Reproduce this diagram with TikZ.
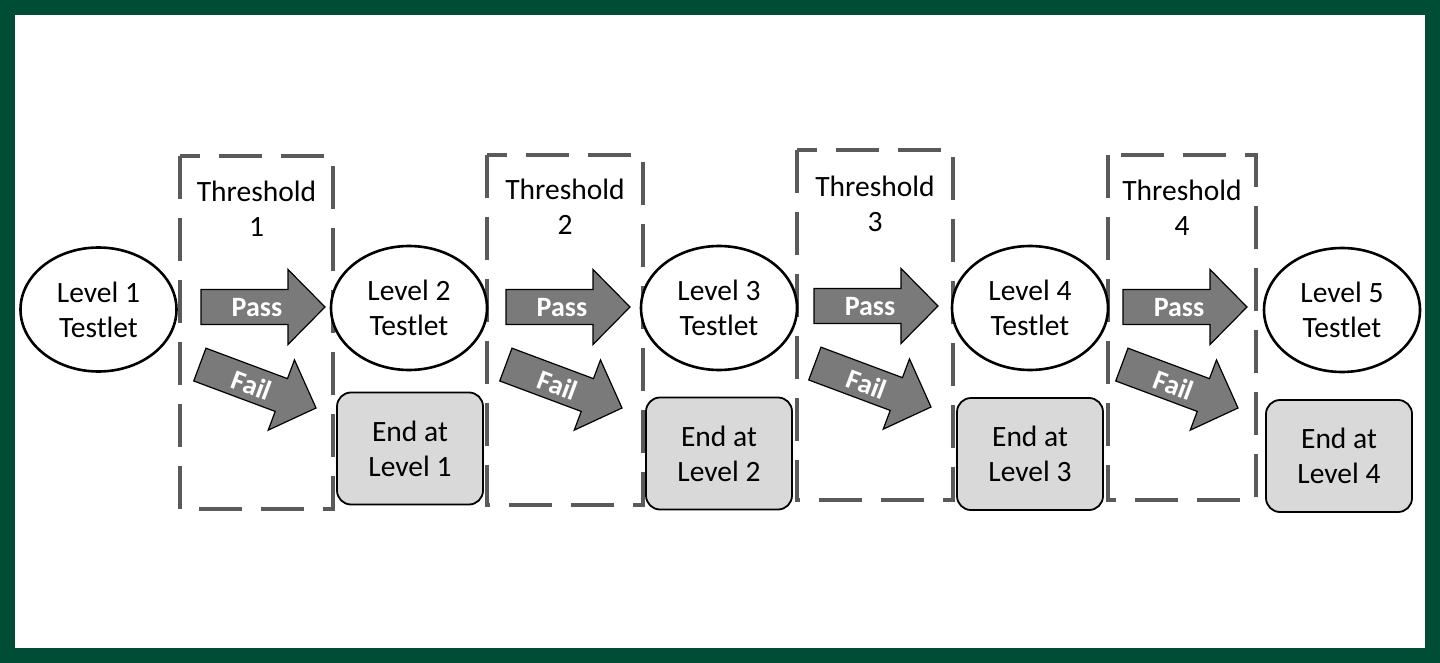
\documentclass[tikz,border=0pt]{standalone}
\usepackage{fontspec}
\setmainfont{Carlito}
\usetikzlibrary{shapes.geometric}
\definecolor{frame}{HTML}{004D35}
\definecolor{arrowgray}{HTML}{7A7A7A}
\definecolor{boxgray}{HTML}{D9D9D9}
\definecolor{dashgray}{HTML}{5A5A5A}
\tikzset{
  txt/.style={font=\fontsize{29.5}{35}\selectfont, align=center, text=black},
  testlet/.style={txt, ellipse, draw=black, line width=2.6pt, fill=white,
    minimum width=156pt, minimum height=124pt, inner sep=0pt},
  endbox/.style={txt, rectangle, rounded corners=14pt, draw=black, line width=1.8pt,
    fill=boxgray, minimum width=146pt, minimum height=112pt, inner sep=0pt},
  thresh/.style={draw=dashgray, line width=3.6pt, dash pattern=on 43pt off 19pt},
  thlabel/.style={txt, inner sep=0pt},
  arrowbody/.style={fill=arrowgray, draw=black, line width=1.2pt, line join=miter},
  arrowtext/.style={font=\fontsize{28}{34}\bfseries\selectfont, text=white, inner sep=0pt}
}
\newcommand\blkarrow[5]{%
  \begin{scope}[shift={(#1,#2)}, rotate=#3]
    \draw[arrowbody] (0,0) -- (-37,37.5) -- (-37,17.5) -- (-124,17.5) -- (-124,-17.5)
      -- (-37,-17.5) -- (-37,-37.5) -- cycle;
    \node[arrowtext, rotate=#3] (#4) at (-68,1) {#5};
  \end{scope}}
\begin{document}
\begin{tikzpicture}[x=1pt, y=-1pt]
\useasboundingbox (0,0) rectangle (1440,663);
\fill[frame] (0,0) rectangle (1440,663);
\fill[white] (15,15) rectangle (1425,648);

% threshold boxes
\draw[thresh] (180,156) rectangle (333,509);
\draw[thresh] (487,155) rectangle (643,505);
\draw[thresh] (797,150) rectangle (953,500);
\draw[thresh] (1108,155) rectangle (1256,500);
\node[thlabel] (t1) at (256.5,209) {Threshold\\1};
\node[thlabel] (t2) at (565,207) {Threshold\\2};
\node[thlabel] (t3) at (875,203.5) {Threshold\\3};
\node[thlabel] (t4) at (1182,207.5) {Threshold\\4};

% testlets
\node[testlet] (L1) at (98.5,309.5) {Level 1\\Testlet};
\node[testlet] (L2) at (409,308) {Level 2\\Testlet};
\node[testlet] (L3) at (719,308) {Level 3\\Testlet};
\node[testlet] (L4) at (1030,308) {Level 4\\Testlet};
\node[testlet] (L5) at (1342,310) {Level 5\\Testlet};

% end boxes
\node[endbox] (E1) at (410,448.5) {End at\\Level 1};
\node[endbox] (E2) at (719,453.5) {End at\\Level 2};
\node[endbox] (E3) at (1030,454) {End at\\Level 3};
\node[endbox] (E4) at (1339,456) {End at\\Level 4};

% pass / fail arrows
\blkarrow{325}{307}{0}{p1}{Pass}
\blkarrow{630}{307}{0}{p2}{Pass}
\blkarrow{938}{306}{0}{p3}{Pass}
\blkarrow{1247}{307}{0}{p4}{Pass}
\blkarrow{316}{408}{-20.5}{f1}{Fail}
\blkarrow{622}{408}{-20.5}{f2}{Fail}
\blkarrow{931}{407}{-20.5}{f3}{Fail}
\blkarrow{1238}{408}{-20.5}{f4}{Fail}
\end{tikzpicture}
\end{document}
